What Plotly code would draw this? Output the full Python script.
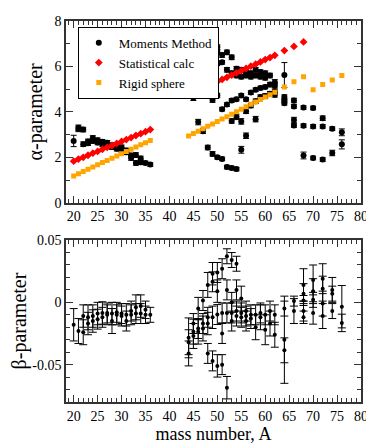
import plotly.graph_objects as go
from plotly.subplots import make_subplots

# alpha-parameter, moments method (A, value, error)
alpha_A = [20, 21, 21, 22, 22, 23, 23, 24, 24, 25, 25, 26, 26, 27, 27, 28, 28,
           29, 29, 30, 30, 31, 31, 32, 32, 33, 33, 34, 34, 35, 36,
           44, 45, 45, 46, 47, 47, 47, 48, 48, 48, 48, 49, 49, 49, 49,
           50, 50, 50, 50, 50, 51, 51, 51, 51, 52, 52, 52, 52,
           53, 53, 53, 53, 53, 54, 54, 54, 54, 54, 55, 55, 55, 55, 55,
           56, 56, 56, 56, 56, 57, 57, 57, 57, 58, 58, 58, 58, 58,
           59, 59, 59, 59, 60, 60, 60, 60, 61, 61, 61, 62, 62, 62, 62,
           64, 64, 64, 64, 66, 66, 66, 66, 68, 68, 68, 70, 70, 70,
           72, 72, 72, 74, 74, 76, 76]
alpha_val = [2.72, 3.30, 3.25, 3.22, 2.58, 2.70, 2.62, 2.85, 2.72, 2.65, 2.75,
             2.58, 2.68, 2.64, 2.53, 2.53, 2.45, 2.50, 2.38, 2.44, 2.30, 2.30,
             2.22, 1.97, 2.08, 1.75, 2.10, 1.78, 1.95, 1.75, 1.68,
             4.90, 4.62, 7.27, 3.55, 6.88, 5.75, 3.15, 6.94, 6.05, 5.75, 2.43,
             6.72, 6.08, 4.52, 2.15,
             6.85, 6.62, 6.12, 4.72, 2.00, 6.50, 6.18, 4.12, 1.93,
             6.62, 5.85, 4.32, 1.57,
             6.40, 5.70, 4.50, 3.60, 1.53, 5.90, 5.60, 4.56, 3.78, 1.48,
             5.85, 5.55, 4.72, 3.58, 2.33,
             5.75, 5.60, 4.55, 4.03, 2.95, 5.70, 5.55, 4.85, 4.28,
             5.85, 5.60, 4.97, 4.47, 3.68,
             5.75, 5.55, 5.05, 4.65, 5.70, 5.50, 5.10, 4.70, 5.60, 5.20, 4.80,
             5.30, 5.15, 4.90, 4.75,
             5.62, 4.65, 4.50, 4.38, 4.50, 4.24, 3.64, 3.40, 4.19, 3.39, 2.08,
             4.17, 3.36, 1.97, 3.72, 3.36, 1.90, 3.26, 2.19, 3.10, 2.57]
alpha_err = [0.25, 0.12, 0.12, 0.10, 0.10, 0.10, 0.10, 0.10, 0.10, 0.10, 0.10,
             0.10, 0.10, 0.10, 0.10, 0.10, 0.10, 0.10, 0.10, 0.10, 0.10, 0.10,
             0.10, 0.10, 0.10, 0.10, 0.10, 0.10, 0.10, 0.08, 0.08,
             0.25, 0.12, 0.10, 0.12, 0.10, 0.10, 0.10, 0.10, 0.08, 0.08, 0.10,
             0.10, 0.08, 0.10, 0.10,
             0.10, 0.10, 0.08, 0.10, 0.08, 0.10, 0.08, 0.08, 0.08,
             0.10, 0.10, 0.08, 0.08,
             0.10, 0.10, 0.08, 0.10, 0.08, 0.10, 0.10, 0.08, 0.12, 0.08,
             0.10, 0.10, 0.08, 0.12, 0.15,
             0.10, 0.10, 0.08, 0.10, 0.12, 0.10, 0.10, 0.08, 0.10,
             0.10, 0.10, 0.08, 0.10, 0.12,
             0.10, 0.10, 0.08, 0.10, 0.10, 0.10, 0.08, 0.10, 0.10, 0.10, 0.10,
             0.12, 0.10, 0.10, 0.10,
             0.55, 0.10, 0.08, 0.08, 0.10, 0.08, 0.12, 0.08, 0.08, 0.08, 0.15,
             0.08, 0.08, 0.08, 0.10, 0.08, 0.08, 0.08, 0.12, 0.15, 0.20]

# statistical calculation
stat_A = [20, 21, 22, 23, 24, 25, 26, 27, 28, 29, 30, 31, 32, 33, 34, 35, 36,
          44, 45, 46, 47, 48, 49, 50, 51, 52, 53, 54, 55, 56, 57, 58, 59, 60,
          61, 62, 64, 66, 68]
stat_val = [1.83, 1.92, 2.00, 2.09, 2.18, 2.26, 2.35, 2.44, 2.52, 2.61, 2.70,
            2.78, 2.87, 2.96, 3.04, 3.13, 3.22,
            4.75, 4.85, 4.94, 5.04, 5.14, 5.23, 5.33, 5.43, 5.52, 5.62, 5.72,
            5.81, 5.91, 6.01, 6.10, 6.20, 6.30, 6.39, 6.49, 6.70, 6.88, 7.08]

# rigid sphere
rigid_A = [20, 21, 22, 23, 24, 25, 26, 27, 28, 29, 30, 31, 32, 33, 34, 35, 36,
           44, 45, 46, 47, 48, 49, 50, 51, 52, 53, 54, 55, 56, 57, 58, 59, 60,
           61, 62, 64, 66, 68, 70, 72, 74, 76]
rigid_val = [1.18, 1.28, 1.38, 1.47, 1.57, 1.67, 1.77, 1.86, 1.96, 2.06, 2.16,
             2.25, 2.35, 2.45, 2.55, 2.64, 2.74,
             2.94, 3.05, 3.15, 3.26, 3.37, 3.47, 3.58, 3.69, 3.79, 3.90, 4.01,
             4.11, 4.22, 4.33, 4.43, 4.54, 4.65, 4.75, 4.86, 5.10, 5.33, 5.55,
             4.97, 5.20, 5.40, 5.60]

# beta-parameter, moments method
beta_A = [20, 21, 22, 22, 23, 23, 24, 24, 25, 25, 26, 26, 27, 27, 28, 28,
          29, 29, 30, 30, 31, 31, 32, 32, 33, 33, 34, 34, 35, 35, 36,
          44, 44, 44, 45, 45, 45, 46, 46, 46, 47, 47, 47,
          48, 48, 48, 48, 49, 49, 49, 49, 50, 50, 50, 50, 51, 51, 51, 51,
          52, 52, 52, 52, 53, 53, 53, 53, 54, 54, 54, 54, 55, 55, 55,
          56, 56, 56, 57, 57, 58, 58, 59, 59, 60, 60, 61, 61, 62, 62,
          64, 64, 64, 66, 66, 68, 68, 68, 68, 68, 70, 70, 70, 70,
          72, 72, 72, 72, 74, 74, 74, 76, 76]
beta_val = [-0.018, -0.023, -0.024, -0.011, -0.012, -0.017, -0.011, -0.015,
            -0.009, -0.0135, -0.0085, -0.012, -0.0085, -0.010, -0.009, -0.015,
            -0.008, -0.010, -0.009, -0.011, -0.010, -0.015, -0.007, -0.010,
            -0.004, -0.009, -0.003, -0.009, -0.006, -0.010, -0.010,
            -0.0285, -0.032, -0.041, -0.027, -0.0235, -0.017, -0.0235, -0.005,
            -0.021, -0.021, 0.0015, -0.017,
            -0.041, 0.014, -0.017, -0.012, -0.047, 0.023, -0.012, 0.0165,
            -0.051, 0.024, -0.0098, 0.009, -0.050, 0.027, -0.025, -0.0085,
            -0.0685, 0.037, -0.0085, 0.010, 0.034, 0.000, -0.0085, -0.015,
            0.031, 0.010, -0.007, -0.011, 0.003, -0.0085, -0.012,
            -0.007, -0.011, -0.015, -0.010, -0.013, -0.010, -0.020, -0.0085,
            -0.012, -0.010, -0.022, -0.007, -0.017, -0.010, -0.026,
            -0.005, -0.030, -0.0385, 0.001, -0.007,
            0.014, 0.007, 0.0015, -0.007, -0.012,
            0.018, 0.009, 0.002, -0.0085,
            0.019, 0.011, -0.001, -0.011, 0.010, 0.007, -0.007, -0.0035, -0.0165]
beta_err = [0.013, 0.010, 0.010, 0.009, 0.010, 0.009, 0.009, 0.009, 0.009, 0.008,
            0.009, 0.008, 0.008, 0.008, 0.009, 0.010, 0.008, 0.008, 0.008, 0.008,
            0.009, 0.008, 0.008, 0.008, 0.010, 0.008, 0.009, 0.008, 0.007, 0.007,
            0.006,
            0.016, 0.010, 0.010, 0.010, 0.010, 0.008, 0.010, 0.009, 0.008,
            0.010, 0.008, 0.008,
            0.008, 0.010, 0.009, 0.008, 0.008, 0.009, 0.009, 0.008,
            0.009, 0.008, 0.008, 0.009, 0.008, 0.008, 0.008, 0.008,
            0.009, 0.006, 0.008, 0.008, 0.006, 0.008, 0.008, 0.008,
            0.006, 0.008, 0.008, 0.008, 0.010, 0.008, 0.008,
            0.008, 0.008, 0.008, 0.008, 0.008, 0.008, 0.010, 0.008, 0.010,
            0.008, 0.012, 0.008, 0.010, 0.008, 0.010,
            0.006, 0.035, 0.010, 0.004, 0.010, 0.013, 0.008, 0.004, 0.008, 0.005,
            0.012, 0.010, 0.006, 0.009, 0.012, 0.010, 0.010, 0.010,
            0.010, 0.006, 0.006, 0.017, 0.007]

SERIF = "Liberation Serif, Times New Roman, DejaVu Serif, serif"
AXCOL = "#333333"

fig = make_subplots(rows=2, cols=1)

fig.add_trace(go.Scatter(
    x=alpha_A, y=alpha_val, mode="markers", name="Moments Method",
    marker=dict(symbol="circle", size=6, color="black"),
    error_y=dict(type="data", array=alpha_err, color="black", thickness=1, width=3),
), row=1, col=1)
fig.add_trace(go.Scatter(
    x=stat_A, y=stat_val, mode="markers", name="Statistical calc",
    marker=dict(symbol="diamond", size=6, color="#ff0000"),
), row=1, col=1)
fig.add_trace(go.Scatter(
    x=rigid_A, y=rigid_val, mode="markers", name="Rigid sphere",
    marker=dict(symbol="square", size=5, color="#ffa500"),
), row=1, col=1)
fig.add_trace(go.Scatter(
    x=beta_A, y=beta_val, mode="markers", showlegend=False,
    marker=dict(symbol="circle", size=4, color="black"),
    error_y=dict(type="data", array=beta_err, color="black", thickness=1, width=4),
), row=2, col=1)

axis_style = dict(
    showline=True, linecolor=AXCOL, linewidth=1.5, mirror="ticks",
    ticks="inside", ticklen=7, tickwidth=1, tickcolor=AXCOL,
    showgrid=False, zeroline=False,
    tickfont=dict(family=SERIF, size=14, color="black"),
)

fig.update_xaxes(axis_style)
fig.update_yaxes(axis_style)

fig.update_xaxes(range=[18.4, 80], dtick=5, tick0=0,
                 minor=dict(ticks="inside", dtick=1, ticklen=4, tickcolor=AXCOL))
fig.update_xaxes(row=2, col=1,
                 title=dict(text="mass number, A", font=dict(family=SERIF, size=18), standoff=2))

fig.update_yaxes(range=[0, 8], dtick=2, tick0=0, domain=[0.523, 1.0],
                 minor=dict(ticks="inside", dtick=1, ticklen=4, tickcolor=AXCOL),
                 title=dict(text="α-parameter", font=dict(family=SERIF, size=20), standoff=6),
                 row=1, col=1)
fig.update_yaxes(range=[-0.08, 0.05], tickvals=[-0.05, 0, 0.05],
                 ticktext=["-0.05", "0", "0.05"], domain=[0, 0.425],
                 minor=dict(ticks="inside", dtick=0.01, tick0=0, ticklen=4, tickcolor=AXCOL),
                 title=dict(text="β-parameter", font=dict(family=SERIF, size=20), standoff=4),
                 row=2, col=1)

# page body adds an 8px margin, so the figure is sized to fit the 374x447 window
fig.update_layout(
    width=366, height=439,
    margin=dict(l=54, r=8, t=6, b=45),
    paper_bgcolor="white", plot_bgcolor="white",
    font=dict(family=SERIF, color="black"),
    legend=dict(
        x=0.04, y=0.985, xanchor="left", yanchor="top",
        bgcolor="white", bordercolor="black", borderwidth=1,
        font=dict(family=SERIF, size=13), itemwidth=30,
        tracegroupgap=0,
    ),
)

fig.write_html("out.html")
